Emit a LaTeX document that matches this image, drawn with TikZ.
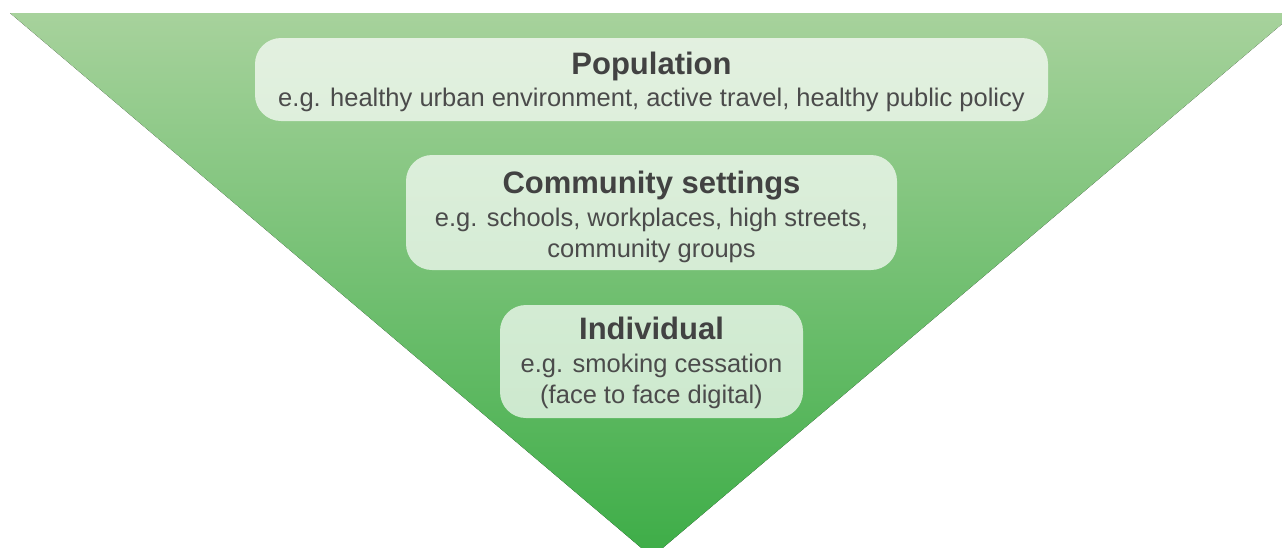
\documentclass[tikz,border=0pt]{standalone}
\usepackage{fontspec}
\setmainfont{Liberation Sans}
\usepackage{xcolor}
\usepackage{tikz}
\usetikzlibrary{positioning}

\definecolor{triTop}{HTML}{A7D29C}
\definecolor{triBot}{HTML}{3DAD47}
\definecolor{textGrey}{HTML}{4B4B4B}
\definecolor{titleGrey}{HTML}{424242}

\tikzset{
    levelbox/.style={rounded corners=26pt, fill=white, fill opacity=0.7, draw=none, inner sep=0pt},
    boxtitle/.style={anchor=base, inner sep=0pt, text=titleGrey, font=\fontsize{31}{36}\selectfont\bfseries},
    boxtext/.style={anchor=base, inner sep=0pt, text=textGrey, font=\fontsize{25.5}{30}\selectfont}
}

\begin{document}
\begin{tikzpicture}[x=1pt,y=-1pt]

\useasboundingbox (0,0) rectangle (1282,547);
\clip (0,0) rectangle (1282,547);

% Inverted triangle with gradient
\fill[top color=triTop, bottom color=triBot] (10,13) -- (1295,13) -- (652,557) -- cycle;

% Level boxes
\node[levelbox, minimum width=793pt, minimum height=83pt] (popbox) at (651.5,79.5) {};
\node[levelbox, minimum width=491pt, minimum height=115pt] (combox) at (651.5,212.5) {};
\node[levelbox, minimum width=303pt, minimum height=113pt] (indbox) at (651.5,361.5) {};

% Population
\node[boxtitle] (poptitle) at (651.5,74) {Population};
\node[boxtext] (poptext) at (651.5,106) {e.g. healthy urban environment, active travel, healthy public policy};

% Community settings
\node[boxtitle] (comtitle) at (651.5,193) {Community settings};
\node[boxtext] (comtexta) at (651.5,226) {e.g. schools, workplaces, high streets,};
\node[boxtext] (comtextb) at (651.5,257) {community groups};

% Individual
\node[boxtitle] (indtitle) at (651.5,339) {Individual};
\node[boxtext] (indtexta) at (651.5,372) {e.g. smoking cessation};
\node[boxtext] (indtextb) at (651.5,403) {(face to face digital)};

\end{tikzpicture}
\end{document}
